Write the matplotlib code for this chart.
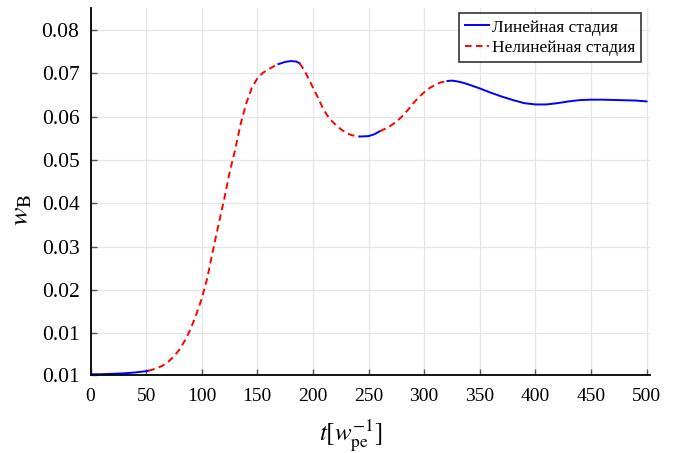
import matplotlib
matplotlib.use("Agg")
import matplotlib.pyplot as plt
import numpy as np

plt.rcParams['font.family'] = ['Liberation Serif', 'DejaVu Serif']
plt.rcParams['mathtext.fontset'] = 'stix'

# growth curve
t = [0, 10, 20, 30, 40, 50, 52, 55, 60, 65, 70, 75, 80, 85, 90, 95, 100, 105,
     110, 115, 120, 125, 130, 135, 140, 145, 150, 155, 160, 165, 169, 175, 180,
     185, 188, 192, 196, 200, 205, 210, 215, 220, 225, 230, 235, 242, 250, 255,
     260, 265, 270, 275, 280, 285, 290, 295, 300, 305, 310, 315, 321, 325, 330,
     335, 340, 350, 360, 370, 380, 390, 400, 410, 420, 430, 440, 450, 460, 475,
     490, 500]
w = [0.0006, 0.0006, 0.0007, 0.0008, 0.0010, 0.0013, 0.0014, 0.0016, 0.0020,
     0.0026, 0.0035, 0.0047, 0.0063, 0.0084, 0.0110, 0.0143, 0.0180, 0.0228,
     0.0290, 0.0350, 0.0407, 0.0470, 0.0523, 0.0583, 0.0630, 0.0666, 0.0688,
     0.0701, 0.0709, 0.0716, 0.0721, 0.0726, 0.0728, 0.0727, 0.0723, 0.0708,
     0.0688, 0.0667, 0.0641, 0.0614, 0.0595, 0.0582, 0.0571, 0.0562, 0.0557,
     0.0554, 0.0555, 0.0559, 0.0566, 0.0572, 0.0579, 0.0588, 0.0600, 0.0614,
     0.0630, 0.0644, 0.0656, 0.0666, 0.0673, 0.0679, 0.0682, 0.0683, 0.0681,
     0.0678, 0.0674, 0.0665, 0.0655, 0.0646, 0.0638, 0.0631, 0.0628, 0.0628,
     0.0631, 0.0635, 0.0638, 0.0639, 0.0639, 0.0638, 0.0637, 0.0635]

# stage boundaries: (start, end, stage)
segments = [(0, 52, 'lin'), (52, 169, 'nl'), (169, 188, 'lin'), (188, 242, 'nl'),
            (242, 260, 'lin'), (260, 321, 'nl'), (321, 500, 'lin')]

yticks = [0.0004, 0.01, 0.02, 0.03, 0.04, 0.05, 0.06, 0.07, 0.08]
ytick_labels = ['0.01', '0.01', '0.02', '0.03', '0.04', '0.05', '0.06', '0.07', '0.08']
xticks = [0, 50, 100, 150, 200, 250, 300, 350, 400, 450, 500]

t = np.array(t)
w = np.array(w)

fig = plt.figure(figsize=(6.78, 4.53), dpi=100)
ax = fig.add_axes([0.1335, 0.172, 0.825, 0.81])

labelled = set()
for a, b, kind in segments:
    m = (t >= a) & (t <= b)
    if kind == 'lin':
        lab = 'Линейная стадия' if 'lin' not in labelled else None
        ax.plot(t[m], w[m], color='#0000ff', lw=1.4, label=lab)
    else:
        lab = 'Нелинейная стадия' if 'nl' not in labelled else None
        ax.plot(t[m], w[m], color='#ff0000', lw=1.4, ls=(0, (3.4, 2.2)), label=lab)
    labelled.add(kind)

ax.set_xlim(0, 503)
ax.set_ylim(0.0004, 0.085)
ax.set_xticks(xticks)
ax.set_yticks(yticks)
ax.set_yticklabels(ytick_labels)
ax.grid(True, color='#e6e6e6', lw=0.9)
ax.set_axisbelow(True)
ax.spines['top'].set_visible(False)
ax.spines['right'].set_visible(False)
ax.spines['left'].set_linewidth(1.3)
ax.spines['bottom'].set_linewidth(1.3)
ax.tick_params(direction='in', length=4, width=1, color='#555555')
ax.tick_params(axis='x', pad=9, labelsize=14)
ax.tick_params(axis='y', pad=8, labelsize=15.5)

ax.set_xlabel(r'$t[w_{\mathrm{pe}}^{-1}]$', fontsize=18)
ax.xaxis.set_label_coords(0.466, -0.115)
ax.set_ylabel(r'$w_{\mathrm{B}}$', fontsize=20)
ax.yaxis.set_label_coords(-0.1, 0.45)

leg = ax.legend(loc='upper right', bbox_to_anchor=(0.985, 0.986), fontsize=12.5,
                frameon=True, fancybox=False, handlelength=1.35, handletextpad=0.2,
                borderpad=0.35, labelspacing=0.25, borderaxespad=0)
leg.get_frame().set_edgecolor('black')
leg.get_frame().set_linewidth(1.2)

fig.savefig('out.png', dpi=100)
